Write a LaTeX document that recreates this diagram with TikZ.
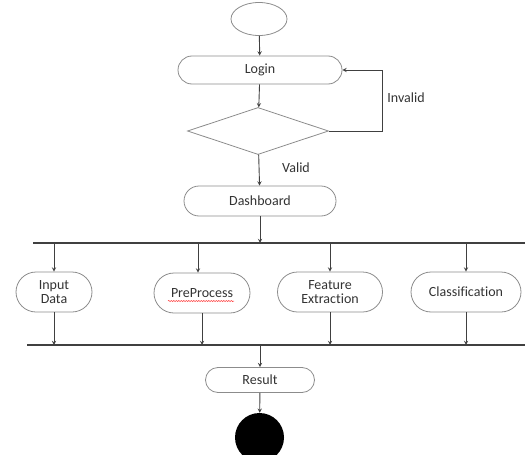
\documentclass[tikz,border=0pt]{standalone}
\usepackage{fontspec}
\setmainfont{Carlito}[Ligatures={NoCommon}]
\usetikzlibrary{shapes.geometric, shapes.misc, arrows, decorations.pathmorphing}

\begin{document}
\begin{tikzpicture}[x=1pt, y=-1pt, >=stealth,
	box/.style={rounded rectangle, draw=black!45, line width=0.8pt, inner sep=1pt, text=black!80, align=center},
	bar/.style={draw=black!75, line width=1.3pt},
	flow/.style={draw=black!75, line width=0.9pt, ->},
	font=\fontsize{14}{16}\selectfont]
	\useasboundingbox (0,0) rectangle (525,455);

	\node[ellipse, draw=black!45, line width=0.8pt, minimum width=56pt, minimum height=33pt, inner sep=0pt] (start) at (259,19) {};
	\node[box, minimum width=166pt, minimum height=28pt] (login) at (260,70) {Login};
	\node[diamond, draw=black!45, line width=0.8pt, minimum width=141pt, minimum height=47pt, inner sep=0pt] (check) at (258,131) {};
	\node[box, minimum width=154pt, minimum height=30pt] (dash) at (260,201) {Dashboard};

	\node[box, minimum width=78pt, minimum height=40pt] (input) at (54,292) {Input\\[-2pt]Data};
	\node[box, minimum width=98pt, minimum height=40pt] (prep) at (202,293) {PreProcess};
	\node[box, minimum width=107pt, minimum height=40pt] (feat) at (330,292) {Feature\\[-2pt]Extraction};
	\node[box, minimum width=112pt, minimum height=40pt] (cls) at (466,292) {Classification};

	\node[box, minimum width=111pt, minimum height=25pt] (result) at (260,380) {Result};
	\node[circle, fill=black, minimum size=49pt, inner sep=0pt] (stop) at (259.5,437.5) {};

	\node[text=black!80] (invalid) at (406,98) {Invalid};
	\node[text=black!80] (valid) at (296,168) {Valid};

	% fork and join bars
	\coordinate (forkL) at (33,243);
	\coordinate (forkR) at (525,243);
	\coordinate (joinL) at (27,345);
	\coordinate (joinR) at (525,345);
	\coordinate (joinC) at (260,345);
	\coordinate (prepIn) at (198,243);
	\coordinate (turn) at (382,131);
	\draw[bar] (forkL) -- (forkR);
	\draw[bar] (joinL) -- (joinR);

	% spell check underline
	\draw[red!80, line width=0.5pt, decorate, decoration={snake, amplitude=0.6pt, segment length=2.5pt}]
		(168,301) -- (234,301);

	\path [every edge/.style={flow}]
		(start) edge (login)
		(login) edge (check)
		(check) edge (dash)
		(dash) edge (dash |- forkL)
		(input |- forkL) edge (input)
		(prepIn) edge (prepIn |- prep.north)
		(feat |- forkL) edge (feat)
		(cls |- forkL) edge (cls)
		(input) edge (input |- joinL)
		(prep) edge (prep |- joinL)
		(feat) edge (feat |- joinL)
		(cls) edge (cls |- joinL)
		(joinC) edge (result)
		(result) edge (stop)
		;
	\draw[flow] (check.east) -- (turn) |- (login.east);
\end{tikzpicture}
\end{document}
